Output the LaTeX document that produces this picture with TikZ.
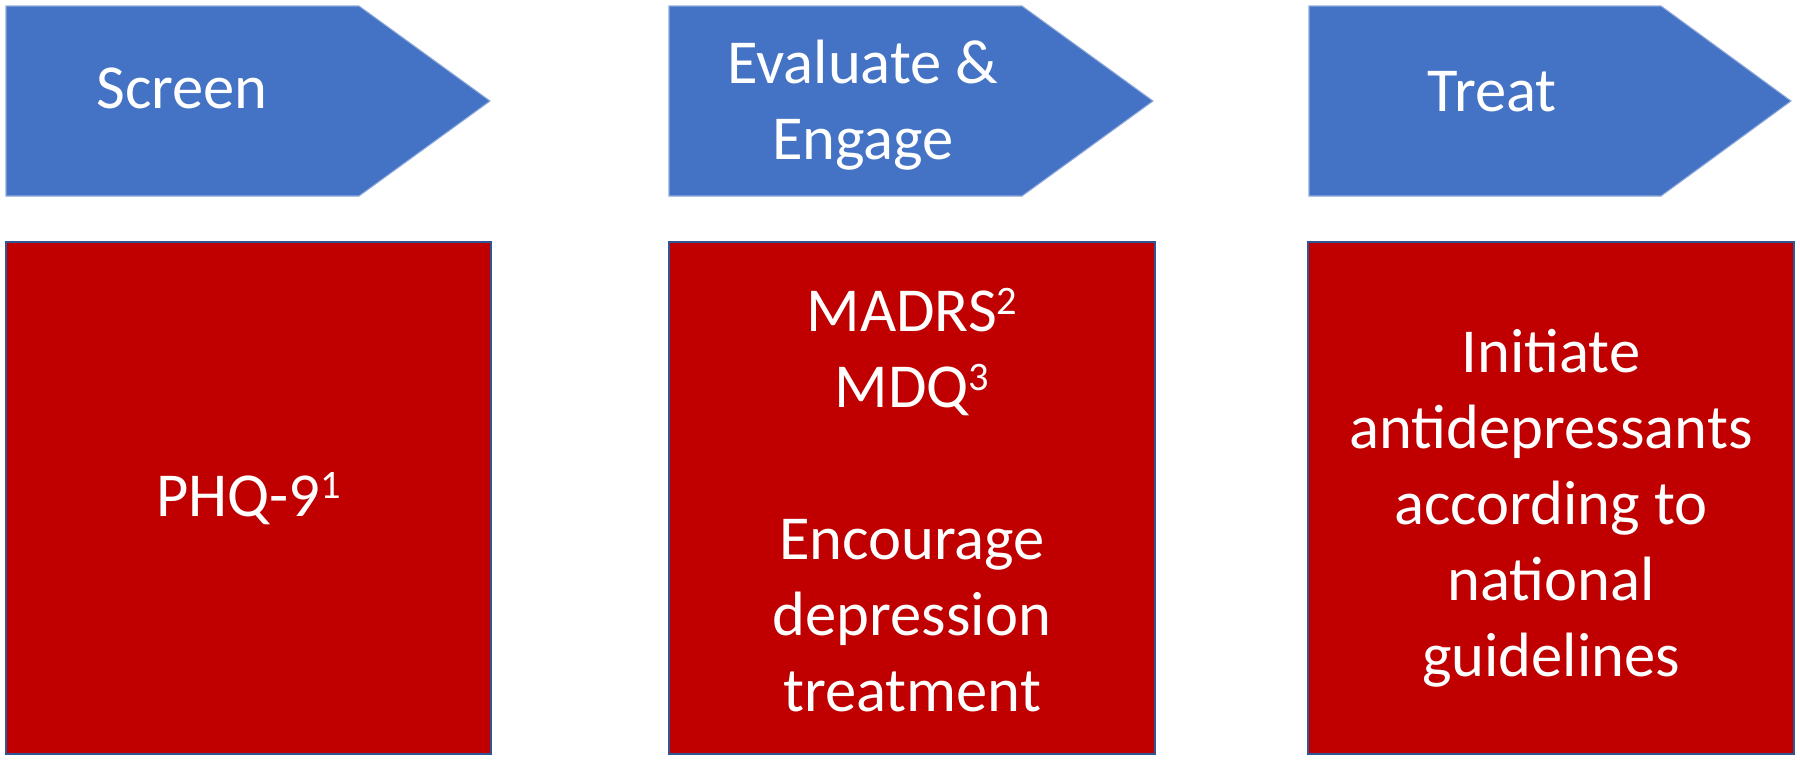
\documentclass[tikz,border=0pt]{standalone}
\usepackage{fontspec}
\setmainfont{Carlito}
\definecolor{stepblue}{HTML}{4472C4}
\definecolor{stepedge}{HTML}{8FAADC}
\definecolor{boxred}{HTML}{C00000}
\definecolor{boxedge}{HTML}{2F5597}
\usetikzlibrary{positioning}
\newcommand{\refmark}[1]{\raisebox{5pt}{\fontsize{11.5}{11.5}\selectfont #1}}

\begin{document}
\begin{tikzpicture}[x=0.01cm, y=-0.01cm,
    every node/.style={font=\fontsize{17.8}{21.6}\selectfont, text=white}]
        \tikzset{
          stepshape/.style={fill=stepblue, draw=stepedge, line width=0.3pt},
          toolbox/.style={draw=boxedge, fill=boxred, line width=0.6pt,
                 minimum width=4.85cm, minimum height=5.12cm, inner sep=0pt},
          steptext/.style={anchor=base, align=center},
          tooltext/.style={align=center, inner sep=0pt}
        }
        \useasboundingbox (0,0) rectangle (1800,760);
        % chevrons
        \filldraw[stepshape] (6,6) -- (359,6) -- (490,101) -- (359,196) -- (6,196) -- cycle;
        \filldraw[stepshape] (669,6) -- (1022,6) -- (1153,101) -- (1022,196) -- (669,196) -- cycle;
        \filldraw[stepshape] (1309,6) -- (1661,6) -- (1791,101) -- (1661,196) -- (1309,196) -- cycle;
        \node[steptext] (screen) at (182,108) {Screen};
        \node[align=center] (evaluate) at (863,105) {Evaluate \&\\Engage};
        \node[steptext] (treat) at (1492,111) {Treat};
        % tool boxes
        \node[toolbox] (phqbox) at (248.5,498) {};
        \node[toolbox] (evalbox) at (912,498) {};
        \node[toolbox] (treatbox) at (1551,498) {};
        \node[steptext] (phq) at (248.5,516) {PHQ-9\refmark{1}};
        \node[tooltext] (madrs) at (912,500) {MADRS\refmark{2}\\MDQ\refmark{3}\\[21.6pt]
          Encourage\\depression\\treatment};
        \node[tooltext] (initiate) at (1551,508) {Initiate\\antidepressants\\according to\\
          national\\guidelines};
      \end{tikzpicture}
\end{document}
